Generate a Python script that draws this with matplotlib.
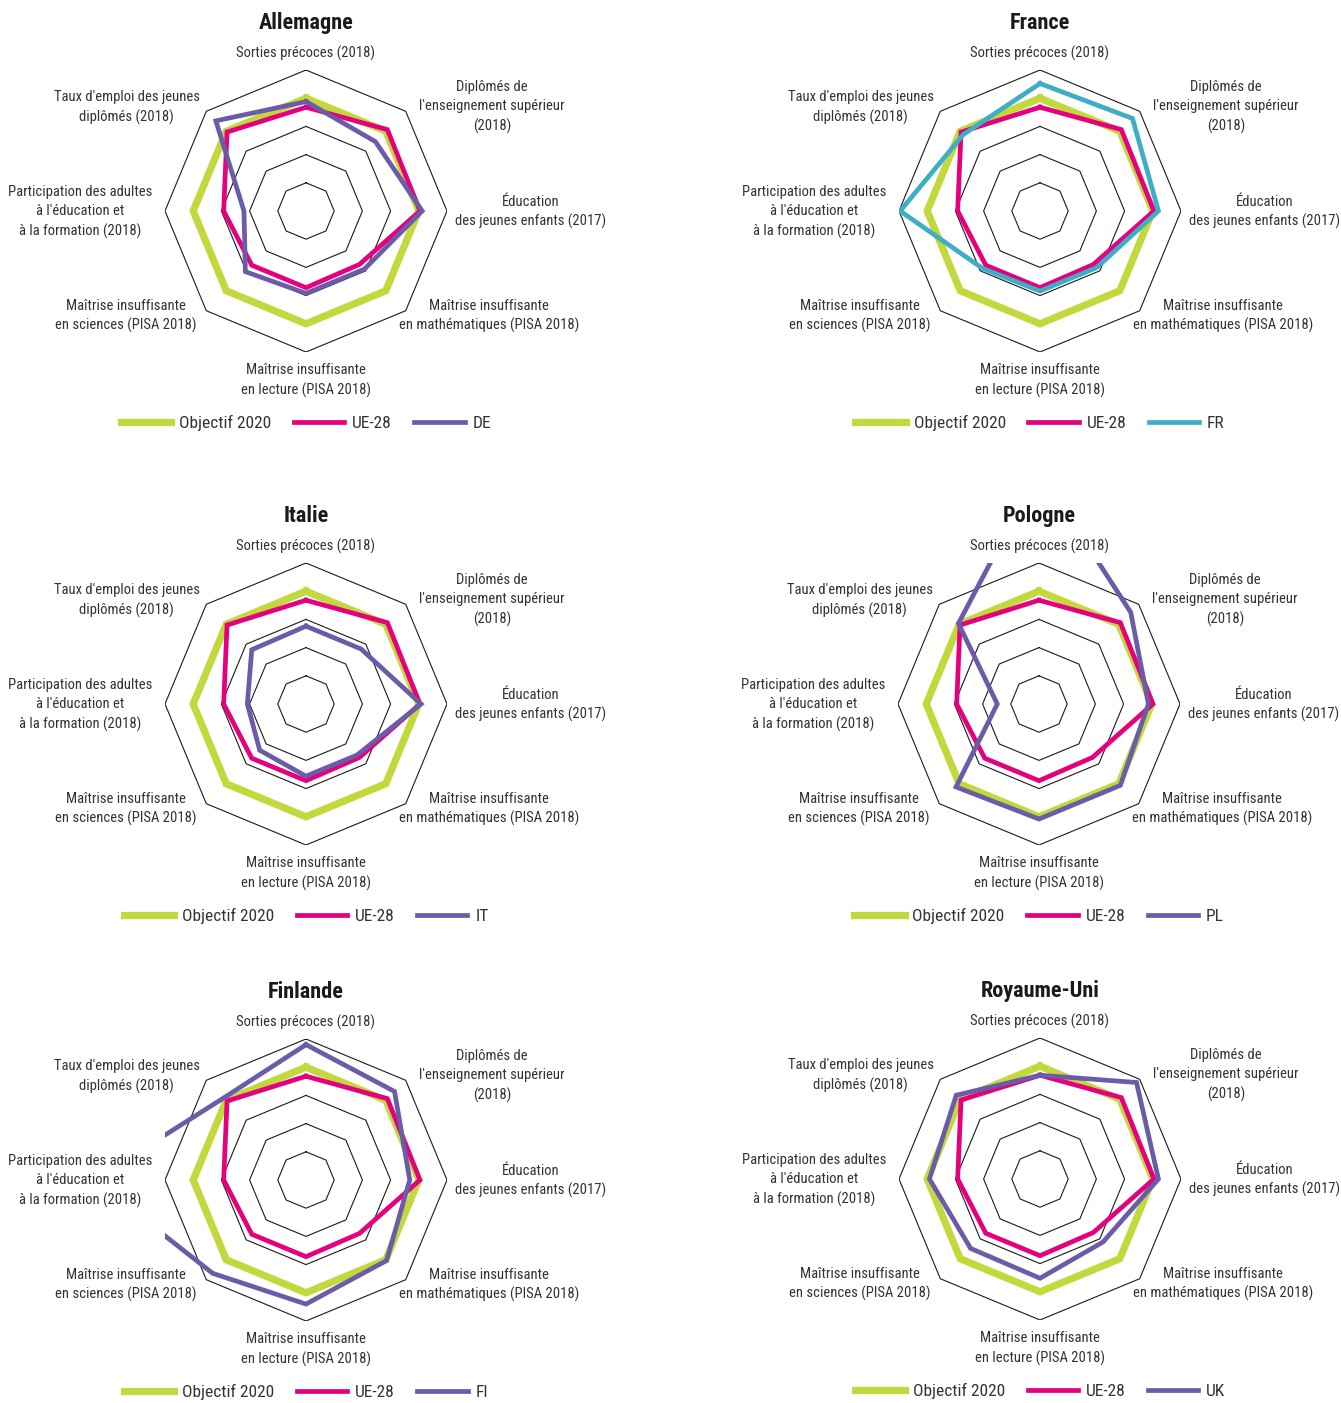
import numpy as np
import matplotlib
matplotlib.use("Agg")
import matplotlib.pyplot as plt
from matplotlib import font_manager

# ---------------- data ----------------
categories = [
    "Sorties précoces (2018)",
    "Diplômés de\nl'enseignement supérieur\n(2018)",
    "Éducation\ndes jeunes enfants (2017)",
    "Maîtrise insuffisante\nen mathématiques (PISA 2018)",
    "Maîtrise insuffisante\nen lecture (PISA 2018)",
    "Maîtrise insuffisante\nen sciences (PISA 2018)",
    "Participation des adultes\nà l'éducation et\nà la formation (2018)",
    "Taux d'emploi des jeunes\ndiplômés (2018)",
]
objectif_2020 = [100, 100, 100, 100, 100, 100, 100, 100]
ue28 = [92, 102, 101, 67, 68, 68, 73, 99]

titles = ["Allemagne", "France", "Italie", "Pologne", "Finlande", "Royaume-Uni"]
codes = ["DE", "FR", "IT", "PL", "FI", "UK"]
de = [97, 87, 103, 73, 73, 76, 55, 113]
fr = [113, 116, 105, 71, 71, 72, 124, 96]
it = [69, 69, 102, 64, 64, 58, 52, 68]
pl = [207, 115, 97, 102, 102, 104, 37, 101]
fi = [120, 111, 92, 101, 110, 117, 188, 103]
uk = [92, 121, 105, 79, 88, 87, 98, 105]
country_values = [de, fr, it, pl, fi, uk]
country_colors = ["#6C5BA8", "#3FADC5", "#6C5BA8", "#6C5BA8", "#6C5BA8", "#6C5BA8"]
ring_levels = [25, 50, 75, 100, 125]

# ---------------- style ----------------
names = {f.name for f in font_manager.fontManager.ttflist}
fam = "DejaVu Sans"
for cand in ["Liberation Sans Narrow", "Roboto Condensed", "Open Sans Condensed"]:
    if cand in names:
        fam = cand
        break
plt.rcParams["font.family"] = [fam, "DejaVu Sans"]

GREEN = "#C3D83D"
PINK = "#E5007E"
TEXT = "#333333"

W, H = 1341, 1403
fig = plt.figure(figsize=(W / 100, H / 100), dpi=100)

centers = [(306, 211), (1040, 211), (306, 704), (1039, 704), (306, 1180), (1040, 1179)]
R_PX = 141
RMAX = 125

n = len(categories)
theta = np.arange(n) * 2 * np.pi / n


def xy(vals):
    v = np.asarray(vals, dtype=float)
    v = np.append(v, v[0])
    t = np.append(theta, theta[0])
    return v * np.sin(t), v * np.cos(t)


# label offsets (data units, relative to centre)
label_pos = [(0, 140), (165, 92), (199, -1), (162, -93),
             (0, -150), (-160, -93), (-200, -1), (-159, 92)]

for k in range(6):
    cx, cy = centers[k]
    ax = fig.add_axes([(cx - R_PX) / W, 1 - (cy + R_PX) / H, 2 * R_PX / W, 2 * R_PX / H])
    ax.set_xlim(-RMAX, RMAX)
    ax.set_ylim(-RMAX, RMAX)
    ax.set_aspect("equal")
    ax.axis("off")

    for lv in ring_levels:
        gx, gy = xy([lv] * n)
        ax.plot(gx, gy, color="#1a1a1a", lw=0.8, zorder=1)

    x, y = xy(objectif_2020)
    ax.plot(x, y, color=GREEN, lw=5.2, label="Objectif 2020", zorder=2,
            solid_joinstyle="miter")
    x, y = xy(ue28)
    ax.plot(x, y, color=PINK, lw=3.4, label="UE-28", zorder=3, solid_joinstyle="miter")
    x, y = xy(country_values[k])
    ax.plot(x, y, color=country_colors[k], lw=3.4, label=codes[k], zorder=4,
            solid_joinstyle="miter")

    for lab, (lx, ly) in zip(categories, label_pos):
        ax.text(lx, ly, lab, ha="center", va="center", multialignment="center",
                fontsize=10.5, color=TEXT, linespacing=1.45, clip_on=False)

    ax.text(0, 167, titles[k], ha="center", va="center", fontsize=16,
            fontweight="bold", color="#1a1a1a", clip_on=False)

    leg = ax.legend(loc="center", bbox_to_anchor=(0, -188), bbox_transform=ax.transData,
                    ncol=3, frameon=False, fontsize=12.5, handlelength=2.9,
                    handletextpad=0.45, columnspacing=1.3, borderaxespad=0)
    for t in leg.get_texts():
        t.set_color(TEXT)

fig.savefig("out.png", dpi=100)
